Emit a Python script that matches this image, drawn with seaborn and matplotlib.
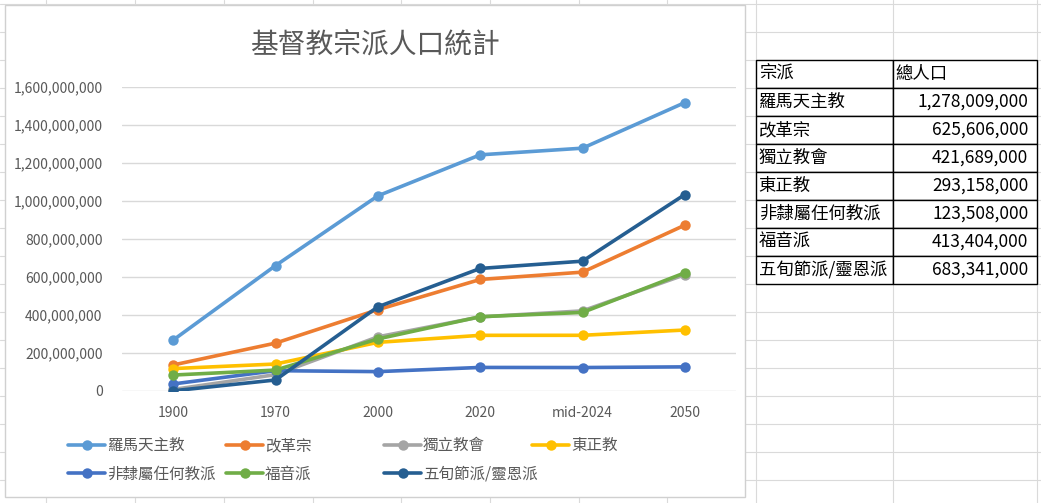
import numpy as np
import pandas as pd
import matplotlib.pyplot as plt
import seaborn as sns
from matplotlib.lines import Line2D
from matplotlib.patches import Rectangle
from matplotlib.ticker import FuncFormatter

# data
years = ['1900', '1970', '2000', '2020', 'mid-2024', '2050']
denoms = ['羅馬天主教', '改革宗', '獨立教會', '東正教', '非隸屬任何教派', '福音派', '五旬節派/靈恩派']
catholic = [268e6, 660e6, 1027e6, 1243e6, 1278.009e6, 1518e6]
protestant = [137e6, 252e6, 428e6, 587e6, 625.606e6, 873e6]
independent = [8e6, 86e6, 285e6, 390e6, 421.689e6, 612e6]
orthodox = [118e6, 142e6, 256e6, 293e6, 293.158e6, 321e6]
unaffiliated = [37e6, 107e6, 102e6, 124e6, 123.508e6, 127e6]
evangelical = [84e6, 110e6, 274e6, 391e6, 413.404e6, 622e6]
pentecostal = [1e6, 58e6, 443e6, 645e6, 683.341e6, 1034e6]
series = [catholic, protestant, independent, orthodox, unaffiliated, evangelical, pentecostal]

# table on the right (mid-2024 totals)
table_head = ['宗派', '總人口']
table_vals = [1278009000, 625606000, 421689000, 293158000, 123508000, 413404000, 683341000]

colors = ['#5B9BD5', '#ED7D31', '#A5A5A5', '#FFC000', '#4472C4', '#70AD47', '#255E91']

df = pd.DataFrame({
    'year': years * len(denoms),
    'pop': np.concatenate(series),
    'denom': np.repeat(denoms, len(years)),
})

sns.set_style('white')
plt.rcParams['font.family'] = ['Noto Sans CJK TC', 'DejaVu Sans']

W, H = 1041, 503
fig = plt.figure(figsize=(W / 100, H / 100), dpi=100)

# excel sheet grid in the background
bg = fig.add_axes([0, 0, 1, 1])
bg.set_xlim(0, W)
bg.set_ylim(H, 0)
bg.axis('off')
for x in [46, 135, 224, 313, 401, 490, 579, 667, 756, 893, 1037]:
    bg.axvline(x, color='#DADADA', lw=0.8, zorder=0)
for y in range(4, H, 28):
    bg.axhline(y, color='#DADADA', lw=0.8, zorder=0)
bg.add_patch(Rectangle((5, 5), 740, 492, facecolor='white', edgecolor='#D0D0D0', lw=1, zorder=1))

# chart
ax = fig.add_axes([122 / W, (H - 391) / H, 614 / W, 304 / H])
ax.set_facecolor('none')
sns.lineplot(data=df, x='year', y='pop', hue='denom', hue_order=denoms,
             palette=colors, marker='o', markersize=7.5, markeredgewidth=0,
             linewidth=2.6, sort=False, legend=False, ax=ax)
ax.set_xlim(-0.5, 5.5)
ax.set_ylim(0, 1.6e9)
ax.set_yticks(np.arange(0, 1.6e9 + 1, 2e8))
ax.yaxis.set_major_formatter(FuncFormatter(lambda v, p: f'{v:,.0f}'))
ax.grid(axis='y', color='#D9D9D9', lw=1)
ax.set_axisbelow(True)
for s in ax.spines.values():
    s.set_visible(False)
ax.tick_params(axis='both', length=0, labelsize=10, labelcolor='#595959')
ax.tick_params(axis='y', pad=14)
ax.tick_params(axis='x', pad=11)
ax.set_xlabel('')
ax.set_ylabel('')

fig.text(375 / W, 1 - 44 / H, '基督教宗派人口統計', ha='center', va='center',
         fontsize=20, color='#595959')

# legend, laid out in fixed-width columns like Excel
handles = [Line2D([], [], color=c, lw=2.6, marker='o', markersize=7.5, markeredgewidth=0) for c in colors]
cols = [[0, 4], [1, 5], [2, 6], [3]]
col_x = [68, 226, 384, 532]
for idx, x0 in zip(cols, col_x):
    leg = fig.legend([handles[i] for i in idx], [denoms[i] for i in idx],
                     loc='upper left', bbox_to_anchor=(x0 / W, 1 - 437 / H),
                     frameon=False, fontsize=11.2, handlelength=2.4, handletextpad=0.1,
                     labelspacing=0.75, borderpad=0, borderaxespad=0)
    for t in leg.get_texts():
        t.set_color('#595959')

# table
tax = fig.add_axes([756 / W, (H - 284) / H, 281 / W, 224 / H])
tax.axis('off')
cell_text = [table_head] + [[d, f'{v:,}'] for d, v in zip(denoms, table_vals)]
tbl = tax.table(cellText=cell_text, cellLoc='left', bbox=[0, 0, 1, 1], colWidths=[137, 144])
tbl.auto_set_font_size(False)
for (r, c), cell in tbl.get_celld().items():
    cell.set_edgecolor('black')
    cell.set_linewidth(1)
    cell.set_text_props(fontsize=12.5, color='black')
    if c == 1 and r > 0:
        cell._loc = 'right'
        cell.get_text().set_ha('right')
        cell.PAD = 0.06
    else:
        cell.PAD = 0.02

fig.savefig('out.png', dpi=100)
